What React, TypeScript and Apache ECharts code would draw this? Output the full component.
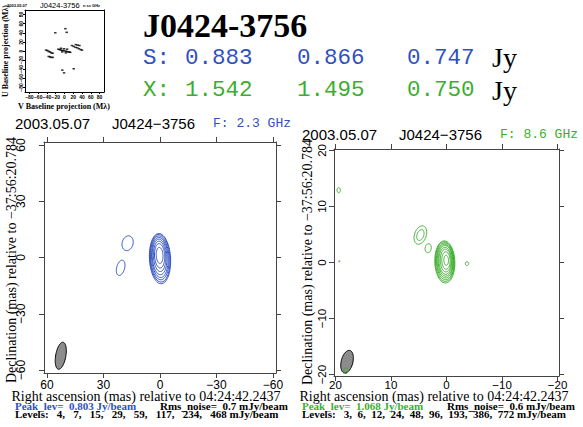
import React, { useEffect, useRef } from "react";
import * as echarts from "echarts";

const BLUE = "#3050c0";
const GREEN = "#3cae2e";
const FRAME = "#444";

const SOURCE = "J0424-3756";
const DATE = "2003.05.07";
const RA_REF = "04:24:42.2437";
const DEC_REF = "\u221237:56:20.784";

const fluxS = [0.883, 0.866, 0.747];
const fluxX = [1.542, 1.495, 0.75];

// uv coverage points [V, U] in Mega-lambda
const uvPoints = [
  [-42, 2], [-39, 1], [-36, -1], [-33, -2], [-30, -4], [-27, -5],
  [-36, -12], [-33, -13], [-30, -14], [-27, -14],
  [-14, 4], [-11, 3], [-8, 2], [-5, 1], [-2, 1], [2, 0], [5, -1], [8, -2], [11, -2], [13, -3],
  [-8, 6], [-1, 5], [6, 4], [-5, -2], [3, -4],
  [17, 12], [21, 10], [25, 8], [29, 7], [33, 5], [37, 3], [40, 2],
  [26, 14], [30, 13], [34, 12],
  [-21, 40], [2, 49], [5, 41],
  [-5, -42], [-1, -48], [21, -39],
];
const uvTicks = [-80, -60, -40, -20, 0, 20, 40, 60, 80];

// S band (2.3 GHz)
const sFreq = "2.3 GHz";
const sPeak = 0.803;
const sRms = 0.7;
const sLevels = [4, 7, 15, 29, 59, 117, 234, 468];
const sTicks = [-60, -30, 0, 30, 60];
// contours: [RA mas, Dec mas, semi-major, semi-minor, PA deg]
const sContours = [
  [0.0, -0.6, 13.4, 5.6, 3],
  [0.0, -0.4, 12.7, 5.3, 3],
  [0.1, -0.2, 11.7, 4.9, 3],
  [0.1, 0.0, 10.7, 4.4, 3],
  [0.2, 0.3, 9.5, 3.9, 3],
  [0.2, 0.6, 8.1, 3.3, 3],
  [0.2, 0.9, 6.5, 2.7, 3],
  [0.2, 1.1, 4.3, 1.8, 3],
  [17.2, 7.6, 4.0, 2.9, -15],
  [20.9, -5.5, 4.2, 2.1, -15],
];
const sBeam = [[52.7, -52.4, 7.3, 2.7, -10]];

// X band (8.6 GHz)
const xFreq = "8.6 GHz";
const xPeak = 1.068;
const xRms = 0.6;
const xLevels = [3, 6, 12, 24, 48, 96, 193, 386, 772];
const xTicks = [-20, -10, 0, 10, 20];
const xContours = [
  [0.3, 0.1, 3.75, 1.8, 2],
  [0.3, 0.15, 3.52, 1.69, 2],
  [0.25, 0.2, 3.28, 1.57, 2],
  [0.25, 0.25, 3.0, 1.44, 2],
  [0.2, 0.3, 2.73, 1.31, 2],
  [0.2, 0.3, 2.4, 1.15, 2],
  [0.15, 0.35, 2.03, 0.97, 2],
  [0.1, 0.35, 1.56, 0.75, 2],
  [0.05, 0.4, 0.88, 0.42, 2],
  [4.7, 4.9, 1.7, 1.05, -20],
  [4.7, 4.9, 1.0, 0.6, -20],
  [3.3, 2.55, 0.8, 0.55, -10],
  [-3.7, -0.2, 0.35, 0.3, 0],
  [19.4, 12.9, 0.45, 0.3, 0],
  [19.3, 0.2, 0.12, 0.08, 0],
  [18.1, -19.3, 0.5, 0.4, 0],
];
const xBeam = [[17.9, -17.7, 2.07, 1.05, -14]];

const SERIF = "Liberation Serif";
const SANS = "Liberation Sans";
const MONO = "Liberation Mono";

const minusFmt = (v: number) => (v < 0 ? "\u2212" + Math.abs(v) : String(v));

function ellipseRender(stroke: string, fill: string) {
  return (params: any, api: any) => {
    const ra = api.value(0);
    const dec = api.value(1);
    const a = api.value(2);
    const b = api.value(3);
    const pa = (api.value(4) * Math.PI) / 180;
    const pts: number[][] = [];
    const n = 72;
    for (let i = 0; i < n; i++) {
      const t = (i / n) * Math.PI * 2;
      const u = a * Math.cos(t);
      const w = b * Math.sin(t);
      const dx = u * Math.sin(pa) + w * Math.cos(pa);
      const dy = u * Math.cos(pa) - w * Math.sin(pa);
      pts.push(api.coord([ra + dx, dec + dy]));
    }
    return {
      type: "polygon",
      shape: { points: pts },
      style: { fill, stroke, lineWidth: 1 },
    };
  };
}

function mapAxes(gridIndex: number, lim: number, ticks: number[], xMargin: number, yMargin: number, fs: number) {
  const common = {
    gridIndex,
    type: "value",
    min: -lim,
    max: lim,
    splitLine: { show: false },
    axisLine: { show: true, onZero: false, lineStyle: { color: FRAME, width: 1 } },
    axisTick: { show: true, inside: false, length: 5, customValues: ticks, lineStyle: { color: FRAME } },
  };
  const x = [
    {
      ...common,
      position: "bottom",
      inverse: true,
      axisLabel: {
        show: true,
        customValues: ticks,
        formatter: minusFmt,
        fontFamily: SANS,
        fontSize: fs,
        lineHeight: fs - 1,
        color: "#000",
        margin: xMargin,
      },
    },
    { ...common, position: "top", inverse: true, axisLabel: { show: false } },
  ];
  const y = [
    {
      ...common,
      position: "left",
      axisLabel: {
        show: true,
        customValues: ticks,
        formatter: minusFmt,
        rotate: 90,
        fontFamily: SANS,
        fontSize: fs,
        lineHeight: fs,
        color: "#000",
        margin: yMargin,
      },
    },
    { ...common, position: "right", axisLabel: { show: false } },
  ];
  return { x, y };
}

function txt(x: number, y: number, text: string, style: any, extra: any = {}) {
  return {
    type: "text",
    x,
    y,
    ...extra,
    style: { text, fill: "#000", textVerticalAlign: "middle", ...style },
  };
}

export default function App() {
  const ref = useRef<HTMLDivElement>(null);
  useEffect(() => {
    document.body.style.margin = "0";
    if (!ref.current) return;
    const chart = echarts.init(ref.current, null, { renderer: "svg" });

    const L = mapAxes(1, 61.6, sTicks, 6, 17, 12);
    const R = mapAxes(2, 20.25, xTicks, 4, 6, 11.5);

    const uvAxisCommon = {
      gridIndex: 0,
      type: "value",
      min: -90,
      max: 90,
      splitLine: { show: false },
      axisLine: { show: true, onZero: false, lineStyle: { color: "#000" } },
      axisTick: { show: true, length: 2, customValues: uvTicks, lineStyle: { color: "#000" } },
    };

    const fluxLine = (y: number, label: string, vals: number[], color: string) => [
      txt(143, y, label, { fontFamily: MONO, fontSize: 22.5, fill: color }),
      txt(185, y, vals[0].toFixed(3), { fontFamily: MONO, fontSize: 22.5, fill: color }),
      txt(297, y, vals[1].toFixed(3), { fontFamily: MONO, fontSize: 22.5, fill: color }),
      txt(407, y, vals[2].toFixed(3), { fontFamily: MONO, fontSize: 22.5, fill: color }),
      txt(492, y, "Jy", { fontFamily: SERIF, fontSize: 28, fill: "#000" }),
    ];

    const panelText = (x0: number, yHead: number, cx: number, freq: string, color: string, peak: number, rms: number, levels: number[], sep: string, rmsX: number, decX: number, decY: number) => [
      txt(x0, yHead, DATE, { fontFamily: SANS, fontSize: 15 }),
      txt(x0 + 97, yHead, SOURCE.replace("-", "\u2212"), { fontFamily: SANS, fontSize: 15 }),
      txt(x0 + 198, yHead, "F: " + freq, { fontFamily: MONO, fontSize: 13, fill: color }),
      txt(cx, 396.5, "Right ascension (mas) relative to " + RA_REF, { fontFamily: SERIF, fontSize: 14, lineHeight: 10, textAlign: "center" }),
      txt(x0, 405.5, "Peak_lev=  " + peak.toFixed(3) + " Jy/beam", { fontFamily: SERIF, fontSize: 11, lineHeight: 8, fontWeight: "bold", fill: color }),
      txt(rmsX, 405.5, "Rms_noise=  " + rms + " mJy/beam", { fontFamily: SERIF, fontSize: 11, lineHeight: 8, fontWeight: "bold" }),
      txt(x0, 414, "Levels:   " + levels.join(sep) + " mJy/beam", { fontFamily: SERIF, fontSize: 11, lineHeight: 8, fontWeight: "bold" }),
      txt(decX, decY, "Declination (mas) relative to " + DEC_REF, { fontFamily: SERIF, fontSize: 14, lineHeight: 12, textAlign: "center" }, { rotation: Math.PI / 2 }),
    ];

    chart.setOption({
      animation: false,
      grid: [
        { left: 25, top: 10, width: 79, height: 82, show: false },
        { left: 44, top: 142, width: 232, height: 231, show: false },
        { left: 334, top: 149, width: 225, height: 227, show: false },
      ],
      xAxis: [
        {
          ...uvAxisCommon,
          position: "bottom",
          axisLabel: { customValues: uvTicks, formatter: minusFmt, fontSize: 5, fontWeight: "bold", margin: 2, color: "#000", fontFamily: SANS },
        },
        { ...uvAxisCommon, position: "top", axisTick: { show: false }, axisLabel: { show: false } },
        ...L.x,
        ...R.x,
      ],
      yAxis: [
        {
          ...uvAxisCommon,
          position: "left",
          axisLabel: { customValues: uvTicks, formatter: minusFmt, rotate: 90, fontSize: 5, fontWeight: "bold", margin: 2, color: "#000", fontFamily: SANS },
        },
        { ...uvAxisCommon, position: "right", axisTick: { show: false }, axisLabel: { show: false } },
        ...L.y,
        ...R.y,
      ],
      series: [
        {
          type: "scatter",
          xAxisIndex: 0,
          yAxisIndex: 0,
          data: uvPoints,
          symbol: "rect",
          symbolSize: [2.5, 1.5],
          itemStyle: { color: "#000" },
        },
        {
          type: "custom",
          xAxisIndex: 2,
          yAxisIndex: 2,
          clip: true,
          data: sBeam,
          renderItem: ellipseRender("#000", "#8c8c8c"),
        },
        {
          type: "custom",
          xAxisIndex: 2,
          yAxisIndex: 2,
          clip: true,
          data: sContours,
          renderItem: ellipseRender(BLUE, "none"),
        },
        {
          type: "custom",
          xAxisIndex: 4,
          yAxisIndex: 4,
          clip: true,
          data: xBeam,
          renderItem: ellipseRender("#000", "#8c8c8c"),
        },
        {
          type: "custom",
          xAxisIndex: 4,
          yAxisIndex: 4,
          clip: true,
          data: xContours,
          renderItem: ellipseRender(GREEN, "none"),
        },
      ],
      graphic: [
        // uv mini plot texts
        txt(7, 5, DATE, { fontFamily: SANS, fontSize: 4, fontWeight: "bold" }),
        txt(40, 5, SOURCE, { fontFamily: SANS, fontSize: 7.5 }),
        txt(83, 5, "n ss GHz", { fontFamily: SANS, fontSize: 4, fontWeight: "bold" }),
        txt(64, 106, "V Baseline projection (M\u03bb)", { fontFamily: SERIF, fontSize: 8, fontWeight: "bold", textAlign: "center" }),
        txt(5, 51, "U Baseline projection (M\u03bb)", { fontFamily: SERIF, fontSize: 8, fontWeight: "bold", textAlign: "center" }, { rotation: Math.PI / 2 }),
        // header
        txt(143, 25, SOURCE, { fontFamily: SERIF, fontSize: 34, fontWeight: "bold" }),
        ...fluxLine(57.5, "S:", fluxS, BLUE),
        ...fluxLine(90, "X:", fluxX, GREEN),
        ...panelText(15, 123, 146, sFreq, BLUE, sPeak, sRms, sLevels, ",   ", 160, 11, 260),
        ...panelText(302, 134.5, 434, xFreq, GREEN, xPeak, xRms, xLevels, ",  ", 447, 307, 262),
      ],
    });
    return () => chart.dispose();
  }, []);
  return <div ref={ref} style={{ width: 583, height: 427 }} />;
}
